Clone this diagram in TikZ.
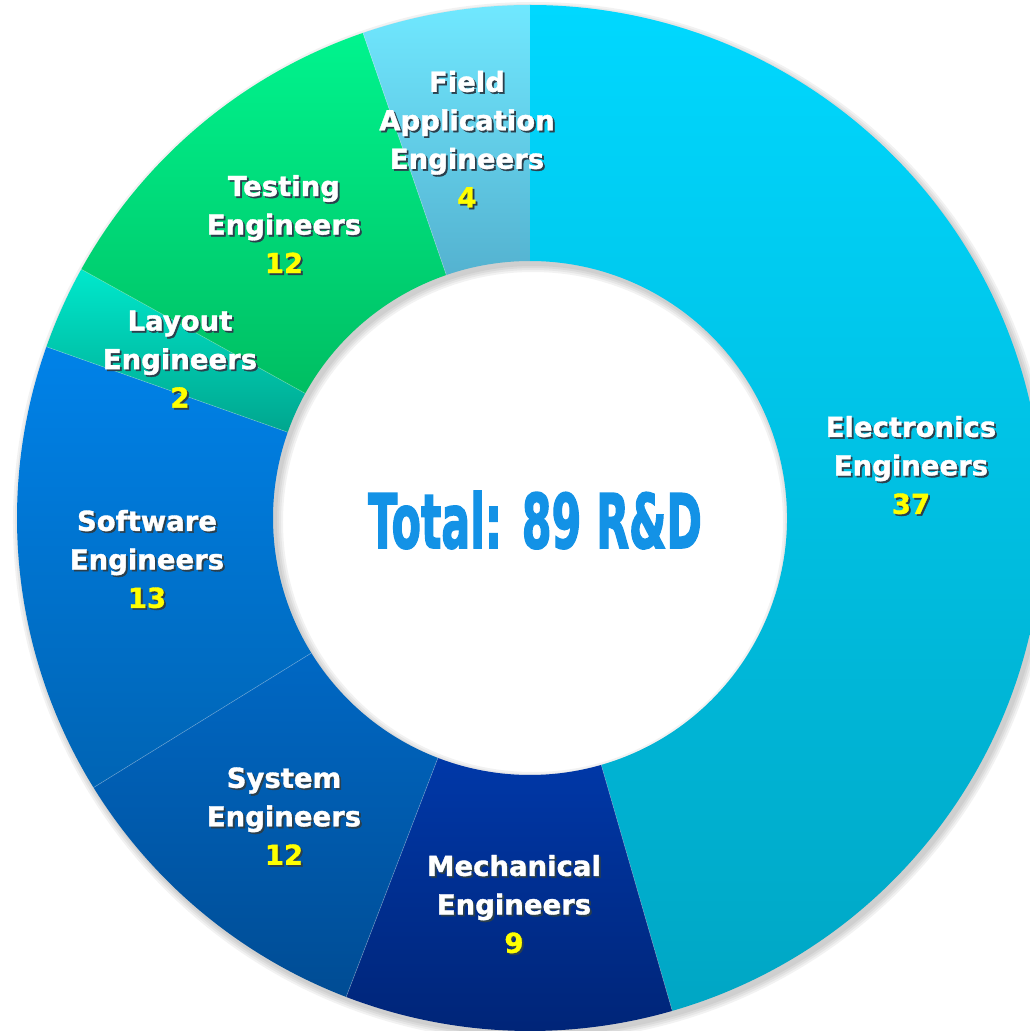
\documentclass[tikz,border=0pt]{standalone}
\usepackage{fontspec}
\setmainfont{DejaVu Sans}
\newfontfamily\segfont{DejaVu Sans}[BoldFeatures={FakeBold=1.3}]
\newfontfamily\totfont{DejaVu Sans}[BoldFeatures={FakeBold=2.5}]
\usepackage{graphicx}
\definecolor{elecTop}{HTML}{00D8FF}
\definecolor{elecBot}{HTML}{00A6C4}
\definecolor{mechTop}{HTML}{0038A8}
\definecolor{mechBot}{HTML}{002476}
\definecolor{sysTop}{HTML}{0068C4}
\definecolor{sysBot}{HTML}{004C94}
\definecolor{softTop}{HTML}{0082E8}
\definecolor{softBot}{HTML}{0064B4}
\definecolor{layTop}{HTML}{00E8CC}
\definecolor{layBot}{HTML}{00A68E}
\definecolor{testTop}{HTML}{00F48E}
\definecolor{testBot}{HTML}{00BE62}
\definecolor{fieldTop}{HTML}{70E8FF}
\definecolor{fieldBot}{HTML}{54B2D0}
\definecolor{numc}{HTML}{FFFF00}
\definecolor{totalc}{HTML}{1392E6}
\definecolor{shadowc}{HTML}{2B3F4C}
\newcommand{\segtxt}[2][white]{\makebox[0pt][l]{\hspace{1.8pt}\raisebox{-1.8pt}{\color{shadowc}#2}}{\color{#1}#2}}
\tikzset{
  seglabel/.style={align=center, inner sep=0pt, font=\segfont\fontsize{27.5}{38.5}\selectfont\bfseries},
  totallabel/.style={text=totalc, inner sep=0pt, font=\totfont\fontsize{75}{80}\selectfont\bfseries},
  sepline/.style={white, opacity=0.3, line width=0.6pt}
}

\begin{document}
\begin{tikzpicture}[x=1pt, y=1pt]
    \useasboundingbox (-530,-513) rectangle (500,518);
    % soft shadow of the ring
    \foreach \k in {1,3,5,7}
        \fill[black, opacity=0.05, even odd rule] (3,-4) circle (513+\k) (3,-4) circle (257-\k);
    % ring segments
    \foreach \a/\b/\ct/\cb in {90/-73.9/elecTop/elecBot, -73.9/-111/mechTop/mechBot,
        -111/-148.3/sysTop/sysBot, -148.3/-199.5/softTop/softBot, -199.5/-209/layTop/layBot,
        -209/-251/testTop/testBot, -251/-270/fieldTop/fieldBot}
        \shade[top color=\ct, bottom color=\cb] (\a:513) arc[start angle=\a, end angle=\b, radius=513]
            -- (\b:257) arc[start angle=\b, end angle=\a, radius=257] -- cycle;
    \foreach \a in {-73.9,-111,-148.3,-199.5,-209,-251}
        \draw[sepline] (\a:257) -- (\a:513);

    \node[seglabel] (electronics) at (381,52) {\segtxt{Electronics}\\\segtxt{Engineers}\\\segtxt[numc]{37}};
    \node[seglabel] (mechanical) at (-16,-387) {\segtxt{Mechanical}\\\segtxt{Engineers}\\\segtxt[numc]{9}};
    \node[seglabel] (system) at (-246,-299) {\segtxt{System}\\\segtxt{Engineers}\\\segtxt[numc]{12}};
    \node[seglabel] (software) at (-383,-42) {\segtxt{Software}\\\segtxt{Engineers}\\\segtxt[numc]{13}};
    \node[seglabel] (layout) at (-350,158) {\segtxt{Layout}\\\segtxt{Engineers}\\\segtxt[numc]{2}};
    \node[seglabel] (testing) at (-246,293) {\segtxt{Testing}\\\segtxt{Engineers}\\\segtxt[numc]{12}};
    \node[seglabel] (field) at (-63,378) {\segtxt{Field}\\\segtxt{Application}\\\segtxt{Engineers}\\\segtxt[numc]{4}};

    \node[totallabel] (total) at (5,-2) {\scalebox{0.57}[1]{Total: 89 R\&D}};
\end{tikzpicture}
\end{document}
